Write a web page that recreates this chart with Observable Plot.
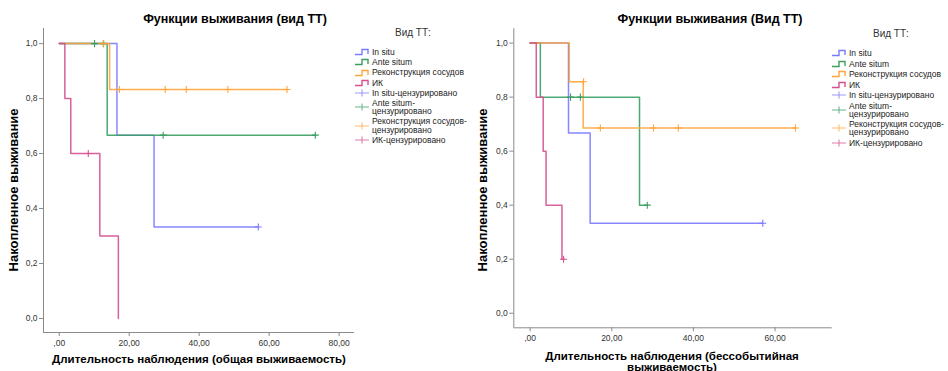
<!DOCTYPE html>
<html>
<head>
<meta charset="utf-8">
<script src="https://cdn.jsdelivr.net/npm/d3@7"></script>
<script src="https://cdn.jsdelivr.net/npm/@observablehq/plot@0.6"></script>
<style>
  html, body { margin: 0; padding: 0; background: #fff; }
  #wrap { position: relative; width: 948px; height: 371px; overflow: hidden; font-family: "Liberation Sans", Arial, sans-serif; }
  .panel { position: absolute; top: 0; }
  .title { position: absolute; font-weight: bold; font-size: 12.5px; color: #000; white-space: nowrap; transform: translateX(-50%); }
  .xlab { position: absolute; font-weight: bold; font-size: 11.5px; color: #000; white-space: nowrap; transform: translateX(-50%); text-align: center; line-height: 10.5px; }
  .ylab { position: absolute; font-weight: bold; font-size: 13px; color: #000; white-space: nowrap; transform: translate(-50%, -50%) rotate(-90deg); }
  .legend { position: absolute; font-size: 8.5px; color: #222; }
  .legend .head { position: absolute; white-space: nowrap; font-size: 10px; color: #333; }
  .legend .item { display: flex; align-items: center; margin-bottom: 2px; line-height: 8.2px; }
  .legend .item svg { flex: none; margin-right: 1px; }
</style>
</head>
<body>
<div id="wrap"></div>
<script>
// ---------- data ----------
const groups = ["In situ", "Ante situm", "Реконструкция сосудов", "ИК"];
const groupColors = ["#7a7aff", "#3a9e62", "#ffa53c", "#d4508e"];
const legendTitle = "Вид ТТ:";
const legendLabels = ["In situ", "Ante situm", "Реконструкция сосудов", "ИК",
  "In situ-цензурировано", "Ante situm-<br>цензурировано", "Реконструкция сосудов-<br>цензурировано", "ИК-цензурировано"];

// Panel 1: overall survival
const os_inSitu_t = [0, 16.5, 27.1, 56.9];
const os_inSitu_s = [1, 0.667, 0.333, 0.333];
const os_ante_t = [0, 13.7, 73.2];
const os_ante_s = [1, 0.667, 0.667];
const os_recon_t = [0, 14.4, 65.1];
const os_recon_s = [1, 0.833, 0.833];
const os_ik_t = [0, 1.6, 3.3, 11.6, 16.9];
const os_ik_s = [1, 0.8, 0.6, 0.3, 0];

const os_inSitu_cens_t = [56.9];
const os_inSitu_cens_s = [0.333];
const os_ante_cens_t = [10.1, 12.6, 29.7, 73.2];
const os_ante_cens_s = [1, 1, 0.667, 0.667];
const os_recon_cens_t = [12.7, 17.2, 30.3, 36.3, 48.2, 65.1];
const os_recon_cens_s = [1, 0.833, 0.833, 0.833, 0.833, 0.833];
const os_ik_cens_t = [8.3];
const os_ik_cens_s = [0.6];

// Panel 2: event-free survival
const efs_inSitu_t = [0, 9.4, 14.7, 57.0];
const efs_inSitu_s = [1, 0.667, 0.333, 0.333];
const efs_ante_t = [0, 2.5, 26.8, 28.7];
const efs_ante_s = [1, 0.8, 0.4, 0.4];
const efs_recon_t = [0, 9.6, 13.0, 65.0];
const efs_recon_s = [1, 0.857, 0.686, 0.686];
const efs_ik_t = [0, 1.5, 3.2, 3.9, 7.8, 8.2];
const efs_ik_s = [1, 0.8, 0.6, 0.4, 0.2, 0.2];

const efs_inSitu_cens_t = [57.0];
const efs_inSitu_cens_s = [0.333];
const efs_ante_cens_t = [9.9, 12.3, 28.7];
const efs_ante_cens_s = [0.8, 0.8, 0.4];
const efs_recon_cens_t = [13.1, 17.2, 30.2, 36.3, 65.0];
const efs_recon_cens_s = [0.857, 0.686, 0.686, 0.686, 0.686];
const efs_ik_cens_t = [8.2];
const efs_ik_cens_s = [0.2];

const title1 = "Функции выживания (вид ТТ)";
const title2 = "Функции выживания (Вид ТТ)";
const yLabel = "Накопленное выживание";
const xLabel1 = "Длительность наблюдения (общая выживаемость)";
const xLabel2 = "Длительность наблюдения (бессобытийная<br>выживаемость)";
const yTicks = [0, 0.2, 0.4, 0.6, 0.8, 1.0];
const xTicks1 = [0, 20, 40, 60, 80];
const xTicks2 = [0, 20, 40, 60];

// ---------- helpers ----------
function rows(tArrs, sArrs) {
  const out = [];
  groups.forEach((g, i) => tArrs[i].forEach((t, j) => out.push({g, t, s: sArrs[i][j]})));
  return out;
}
const fmtX = d => d === 0 ? ",00" : d.toFixed(2).replace(".", ",");
const fmtY = d => d.toFixed(1).replace(".", ",");
const axisColor = "#8a8a8a";

function panel(opts) {
  const {lines, cens, xDomain, yDomain, xTicks, margins} = opts;
  return Plot.plot({
    width: 474, height: 371,
    marginLeft: margins[0], marginRight: margins[1], marginTop: margins[2], marginBottom: margins[3],
    style: {fontFamily: "'Liberation Sans', Arial, sans-serif", fontSize: "8.5px", color: "#333", background: "transparent"},
    x: {domain: xDomain},
    y: {domain: yDomain},
    color: {domain: groups, range: groupColors},
    marks: [
      Plot.ruleY([yDomain[0]], {stroke: axisColor}),
      Plot.ruleX([xDomain[0]], {stroke: axisColor}),
      Plot.axisX({ticks: xTicks, tickFormat: fmtX, tickSize: 4, tickPadding: 3, stroke: axisColor, fill: "#333", label: null}),
      Plot.axisY({ticks: yTicks, tickFormat: fmtY, tickSize: 4, tickPadding: 2, stroke: axisColor, fill: "#333", label: null}),
      Plot.line(lines, {x: "t", y: "s", z: "g", stroke: "g", curve: "step-after", strokeWidth: 1.5, strokeOpacity: 0.9}),
      Plot.dot(cens, {x: "t", y: "s", stroke: "g", symbol: "plus", r: 2.4, strokeWidth: 1.1})
    ]
  });
}

function legend(left, top, headLeft, pitchGap) {
  const div = document.createElement("div");
  div.className = "legend";
  div.style.left = left + "px";
  div.style.top = top + "px";
  const head = document.createElement("div");
  head.className = "head";
  head.textContent = legendTitle;
  head.style.left = headLeft + "px";
  head.style.top = "-21px";
  div.appendChild(head);
  legendLabels.forEach((lab, i) => {
    const c = groupColors[i % 4];
    const item = document.createElement("div");
    item.className = "item";
    item.style.marginBottom = pitchGap + "px";
    const glyph = i < 4
      ? `<svg width="16" height="8"><path d="M0,6.5H7V1.5H13V6" fill="none" stroke="${c}" stroke-width="1.4"/></svg>`
      : `<svg width="16" height="8"><path d="M0,4H14M7,0.5V7.5" fill="none" stroke="${c}" stroke-opacity="0.75" stroke-width="1.1"/></svg>`;
    item.innerHTML = glyph + `<span>${lab}</span>`;
    div.appendChild(item);
  });
  return div;
}

function addText(cls, html, x, y) {
  const d = document.createElement("div");
  d.className = cls;
  d.innerHTML = html;
  d.style.left = x + "px";
  d.style.top = y + "px";
  wrap.appendChild(d);
}

// ---------- build ----------
const wrap = document.getElementById("wrap");

const p1 = document.createElement("div");
p1.className = "panel"; p1.style.left = "0px";
p1.appendChild(panel({
  lines: rows([os_inSitu_t, os_ante_t, os_recon_t, os_ik_t], [os_inSitu_s, os_ante_s, os_recon_s, os_ik_s]),
  cens: rows([os_inSitu_cens_t, os_ante_cens_t, os_recon_cens_t, os_ik_cens_t], [os_inSitu_cens_s, os_ante_cens_s, os_recon_cens_s, os_ik_cens_s]),
  xDomain: [-4.5, 84.4], yDomain: [-0.051, 1.055], xTicks: xTicks1,
  margins: [43, 120, 28, 39]
}));
wrap.appendChild(p1);

const p2 = document.createElement("div");
p2.className = "panel"; p2.style.left = "474px";
p2.appendChild(panel({
  lines: rows([efs_inSitu_t, efs_ante_t, efs_recon_t, efs_ik_t], [efs_inSitu_s, efs_ante_s, efs_recon_s, efs_ik_s]),
  cens: rows([efs_inSitu_cens_t, efs_ante_cens_t, efs_recon_cens_t, efs_ik_cens_t], [efs_inSitu_cens_s, efs_ante_cens_s, efs_recon_cens_s, efs_ik_cens_s]),
  xDomain: [-4.0, 74.0], yDomain: [-0.054, 1.053], xTicks: xTicks2,
  margins: [39.3, 116.3, 28.3, 43.7]
}));
wrap.appendChild(p2);

addText("title", title1, 235, 12);
addText("title", title2, 710, 12);
addText("ylab", yLabel, 13, 190);
addText("ylab", yLabel, 482, 190);
addText("xlab", xLabel1, 199, 354);
addText("xlab", xLabel2, 672, 351);

wrap.appendChild(legend(355, 48, 40, 2));
wrap.appendChild(legend(832, 49, 41, 2.3));
</script>
</body>
</html>
